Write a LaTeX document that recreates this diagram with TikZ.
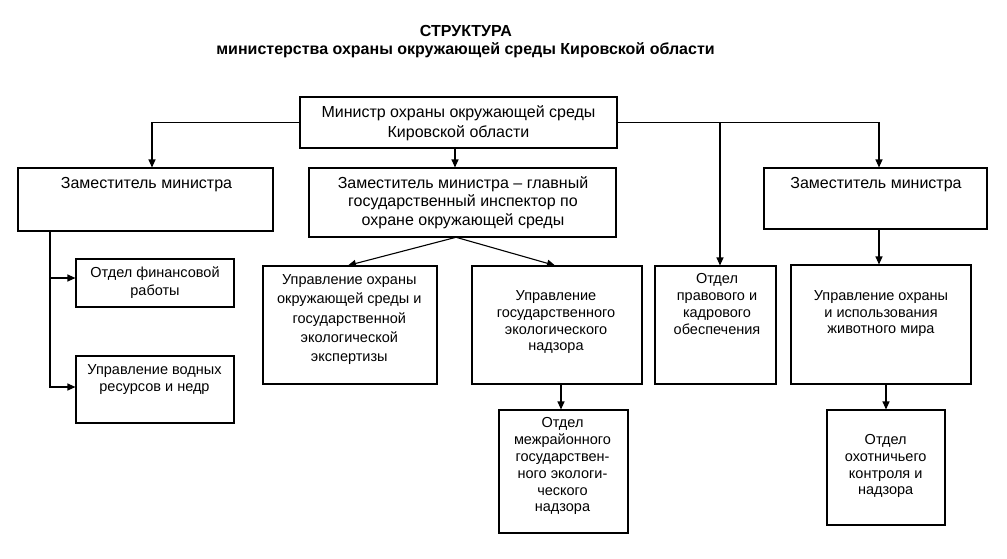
\documentclass[tikz,border=0pt]{standalone}
\usepackage{fontspec}
\setmainfont{Liberation Sans}
\usetikzlibrary{arrows.meta}

\begin{document}
\begin{tikzpicture}[x=1pt, y=-1pt,
  box/.style={draw, line width=1.1pt, inner sep=0pt},
  txt/.style={align=center, inner sep=0pt, anchor=base, font=\fontsize{14.5}{17}\selectfont},
  bigtxt/.style={txt, font=\fontsize{16}{19}\selectfont},
  arr/.style={line width=1.1pt, -{Triangle[length=8pt, width=7pt]}}]
  \useasboundingbox (0,0) rectangle (1007,558);

  % Title
  \node[anchor=base, font=\bfseries\fontsize{16}{18}\selectfont] (title) at (466,36) {СТРУКТУРА};
  \node[anchor=base, font=\bfseries\fontsize{16}{18}\selectfont] (subtitle) at (465.5,54) {министерства охраны окружающей среды Кировской области};

  % Minister
  \node[box, minimum width=317pt, minimum height=51pt] (min) at (458.5,122.5) {};
  \node[bigtxt, font=\fontsize{16}{20}\selectfont] (mintxt) at (458.5,137.2) {Министр охраны окружающей среды\\Кировской области};

  % Deputies
  \node[box, minimum width=255pt, minimum height=63pt] (dep1) at (145.5,199.5) {};
  \node[bigtxt] (dep1txt) at (146.5,188.2) {Заместитель министра};
  \node[box, minimum width=307pt, minimum height=69pt] (dep2) at (462.5,202.5) {};
  \node[bigtxt, font=\fontsize{16}{18.5}\selectfont] (dep2txt) at (463,225.2) {Заместитель министра -- главный\\государственный инспектор по\\охране окружающей среды};
  \node[box, minimum width=223pt, minimum height=61pt] (dep3) at (875.5,198.5) {};
  \node[bigtxt] (dep3txt) at (876,188.2) {Заместитель министра};

  % Left branch
  \node[box, minimum width=158pt, minimum height=48pt] (fin) at (155,283) {};
  \node[txt, font=\fontsize{14.5}{18}\selectfont] (fintxt) at (155,295.8) {Отдел финансовой\\работы};
  \node[box, minimum width=158pt, minimum height=67pt] (water) at (155,389.5) {};
  \node[txt] (watertxt) at (154.5,391.8) {Управление водных\\ресурсов и недр};

  % Middle branch
  \node[box, minimum width=174pt, minimum height=118pt] (upr1) at (350,325) {};
  \node[txt, font=\fontsize{14.5}{19.4}\selectfont] (upr1txt) at (349.3,361.8) {Управление охраны\\окружающей среды и\\государственной\\экологической\\экспертизы};
  \node[box, minimum width=170pt, minimum height=118pt] (upr2) at (557,325) {};
  \node[txt, font=\fontsize{14.5}{16.7}\selectfont] (upr2txt) at (556,350.8) {Управление\\государственного\\экологического\\надзора};
  \node[box, minimum width=129pt, minimum height=123pt] (mezh) at (563.5,471.5) {};
  \node[txt, font=\fontsize{14.5}{16.8}\selectfont] (mezhtxt) at (562.5,511.8) {Отдел\\межрайонного\\государствен-\\ного экологи-\\ческого\\надзора};

  % Legal and staff
  \node[box, minimum width=121pt, minimum height=118pt] (pravo) at (715.5,325) {};
  \node[txt] (pravotxt) at (717,334.8) {Отдел\\правового и\\кадрового\\обеспечения};

  % Right branch
  \node[box, minimum width=180pt, minimum height=119pt] (upr3) at (881,324.5) {};
  \node[txt, font=\fontsize{14.5}{16.5}\selectfont] (upr3txt) at (881,333.8) {Управление охраны\\и использования\\животного мира};
  \node[box, minimum width=118pt, minimum height=115pt] (okhot) at (886,467.5) {};
  \node[txt, font=\fontsize{14.5}{16.7}\selectfont] (okhottxt) at (885.7,494.8) {Отдел\\охотничьего\\контроля и\\надзора};

  % Connectors from the minister
  \coordinate (dep1in) at ([xshift=6.5pt]dep1.north);
  \coordinate (dep2in) at ([xshift=-7.5pt]dep2.north);
  \coordinate (dep3in) at ([xshift=3.5pt]dep3.north);
  \coordinate (pravoin) at ([xshift=4.5pt]pravo.north);
  \draw[arr] (min.west) -| (dep1in);
  \draw[arr] (dep2in |- min.south) -- (dep2in);
  \draw[arr] (min.east) -| (dep3in);
  \draw[arr] (pravoin |- min.east) -- (pravoin);

  % Deputy 1
  \coordinate (trunk) at ([xshift=-95.5pt]dep1.south);
  \draw[arr] (trunk) |- ([yshift=5pt]fin.west);
  \draw[arr] (trunk) |- ([yshift=2.5pt]water.west);

  % Deputy 2
  \draw[arr] ([xshift=-7.5pt]dep2.south) -- ([xshift=-2pt]upr1.north);
  \draw[arr] ([xshift=-5.5pt]dep2.south) -- ([xshift=-2pt]upr2.north);
  \draw[arr] ([xshift=4pt]upr2.south) -- ([xshift=-2.5pt]mezh.north);

  % Deputy 3
  \draw[arr] ([xshift=3.5pt]dep3.south) -- ([xshift=-2pt]upr3.north);
  \draw[arr] ([xshift=5pt]upr3.south) -- (okhot.north);
\end{tikzpicture}
\end{document}
